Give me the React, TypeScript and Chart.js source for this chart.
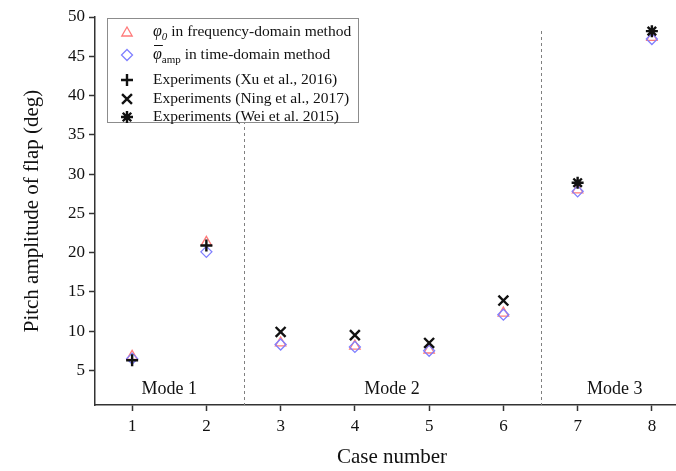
import React, { useEffect, useRef } from 'react';
import { Chart, registerables } from 'chart.js';

Chart.register(...registerables);

const FONT = "'Liberation Serif', 'Times New Roman', serif";

// Case numbers on the horizontal axis
const caseNumbers = [1, 2, 3, 4, 5, 6, 7, 8];
// φ0 from the frequency-domain method (deg)
const freqDomainPhi0 = [6.8, 21.3, 8.5, 8.1, 7.6, 12.3, 28.0, 47.4];
// mean φ_amp from the time-domain method (deg)
const timeDomainPhiAmp = [6.5, 20.1, 8.3, 8.0, 7.5, 12.1, 27.8, 47.2];
// Experimental references
const xuCases = [1, 2];
const xuValues = [6.3, 20.9];
const ningCases = [3, 4, 5, 6];
const ningValues = [9.9, 9.5, 8.5, 13.9];
const weiCases = [7, 8];
const weiValues = [28.9, 48.2];

const yTickValues = [5, 10, 15, 20, 25, 30, 35, 40, 45, 50];
const modeLabels = ['Mode 1', 'Mode 2', 'Mode 3'];
const modeCenters = [1.5, 4.5, 7.5];
const modeBoundaries = [2.5, 6.5];

const RED = '#ff7a7a';
const BLUE = '#7f7fff';
const INK = '#111111';

const pts = (xs: number[], ys: number[]) => xs.map((x, i) => ({ x, y: ys[i] }));

function drawMarker(
  ctx: CanvasRenderingContext2D,
  style: string,
  x: number,
  y: number,
  r: number,
  color: string,
  lw: number
) {
  ctx.save();
  ctx.strokeStyle = color;
  ctx.lineWidth = lw;
  ctx.beginPath();
  if (style === 'triangle') {
    ctx.moveTo(x, y - r);
    ctx.lineTo(x + r * 0.866, y + r / 2);
    ctx.lineTo(x - r * 0.866, y + r / 2);
    ctx.closePath();
  } else if (style === 'rectRot') {
    ctx.moveTo(x, y - r);
    ctx.lineTo(x + r, y);
    ctx.lineTo(x, y + r);
    ctx.lineTo(x - r, y);
    ctx.closePath();
  } else {
    if (style === 'cross' || style === 'star') {
      ctx.moveTo(x - r, y);
      ctx.lineTo(x + r, y);
      ctx.moveTo(x, y - r);
      ctx.lineTo(x, y + r);
    }
    if (style === 'crossRot' || style === 'star') {
      const d = r * Math.SQRT1_2;
      ctx.moveTo(x - d, y - d);
      ctx.lineTo(x + d, y + d);
      ctx.moveTo(x - d, y + d);
      ctx.lineTo(x + d, y - d);
    }
  }
  ctx.stroke();
  ctx.restore();
}

const modePlugin = {
  id: 'modeAnnotations',
  beforeDatasetsDraw(chart: any) {
    const { ctx, chartArea, scales } = chart;
    ctx.save();
    ctx.strokeStyle = '#808080';
    ctx.lineWidth = 1;
    ctx.setLineDash([3, 3]);
    modeBoundaries.forEach((b) => {
      const x = Math.round(scales.x.getPixelForValue(b)) + 0.5;
      ctx.beginPath();
      ctx.moveTo(x, chartArea.top + 14);
      ctx.lineTo(x, chartArea.bottom);
      ctx.stroke();
    });
    ctx.setLineDash([]);
    ctx.fillStyle = INK;
    ctx.font = `18px ${FONT}`;
    ctx.textAlign = 'center';
    ctx.textBaseline = 'middle';
    modeLabels.forEach((t, i) => {
      ctx.fillText(t, scales.x.getPixelForValue(modeCenters[i]), chartArea.bottom - 16);
    });
    ctx.restore();
  },
  afterDraw(chart: any) {
    const { ctx, chartArea } = chart;
    const bx = chartArea.left + 12;
    const by = chartArea.top + 1;
    const bw = 251;
    const bh = 104;
    ctx.save();
    ctx.fillStyle = '#ffffff';
    ctx.fillRect(bx, by, bw, bh);
    ctx.strokeStyle = '#8c8c8c';
    ctx.lineWidth = 1;
    ctx.strokeRect(bx + 0.5, by + 0.5, bw, bh);

    const mx = bx + 20;
    const tx = bx + 46;
    const rows = [by + 14, by + 37, by + 62, by + 81, by + 99];
    ctx.textBaseline = 'middle';
    ctx.textAlign = 'left';
    ctx.fillStyle = INK;

    // Row 1: φ0 in frequency-domain method
    drawMarker(ctx, 'triangle', mx, rows[0] + 1, 6, RED, 1.3);
    ctx.font = `italic 16px ${FONT}`;
    ctx.fillText('φ', tx, rows[0]);
    let w = ctx.measureText('φ').width;
    ctx.font = `italic 11px ${FONT}`;
    ctx.fillText('0', tx + w, rows[0] + 5);
    w += ctx.measureText('0').width;
    ctx.font = `15.5px ${FONT}`;
    ctx.fillText(' in frequency-domain method', tx + w, rows[0]);

    // Row 2: mean φ_amp in time-domain method
    drawMarker(ctx, 'rectRot', mx, rows[1], 5.5, BLUE, 1.3);
    ctx.font = `italic 16px ${FONT}`;
    ctx.fillText('φ', tx, rows[1]);
    let w2 = ctx.measureText('φ').width;
    ctx.save();
    ctx.strokeStyle = INK;
    ctx.lineWidth = 1;
    ctx.beginPath();
    ctx.moveTo(tx + 1, rows[1] - 9.5);
    ctx.lineTo(tx + w2 + 1, rows[1] - 9.5);
    ctx.stroke();
    ctx.restore();
    ctx.font = `11px ${FONT}`;
    ctx.fillText('amp', tx + w2, rows[1] + 5);
    w2 += ctx.measureText('amp').width;
    ctx.font = `15.5px ${FONT}`;
    ctx.fillText(' in time-domain method', tx + w2, rows[1]);

    // Rows 3-5: experiments
    const exp = [
      ['cross', 6, 'Experiments (Xu et al., 2016)'],
      ['crossRot', 7, 'Experiments (Ning et al., 2017)'],
      ['star', 6, 'Experiments (Wei et al. 2015)'],
    ] as const;
    exp.forEach(([style, r, label], i) => {
      drawMarker(ctx, style, mx, rows[i + 2], r, INK, 2.4);
      ctx.font = `15.5px ${FONT}`;
      ctx.fillStyle = INK;
      ctx.fillText(label, tx, rows[i + 2]);
    });
    ctx.restore();
  },
};

export default function App() {
  const canvasRef = useRef<HTMLCanvasElement | null>(null);

  useEffect(() => {
    const canvas = canvasRef.current;
    if (!canvas) return;
    const tickFont = { family: FONT, size: 17 };
    const titleFont = { family: FONT, size: 21 };
    const chart = new Chart(canvas, {
      type: 'scatter',
      data: {
        datasets: [
          {
            label: 'φ0 in frequency-domain method',
            data: pts(caseNumbers, freqDomainPhi0),
            pointStyle: 'triangle',
            pointRadius: 6,
            borderColor: RED,
            backgroundColor: 'rgba(0,0,0,0)',
            pointBorderWidth: 1.3,
            order: 3,
          },
          {
            label: 'φamp in time-domain method',
            data: pts(caseNumbers, timeDomainPhiAmp),
            pointStyle: 'rectRot',
            pointRadius: 5.5,
            borderColor: BLUE,
            backgroundColor: 'rgba(0,0,0,0)',
            pointBorderWidth: 1.3,
            order: 2,
          },
          {
            label: 'Experiments (Xu et al., 2016)',
            data: pts(xuCases, xuValues),
            pointStyle: 'cross',
            pointRadius: 6,
            borderColor: INK,
            pointBorderWidth: 2.4,
            order: 1,
          },
          {
            label: 'Experiments (Ning et al., 2017)',
            data: pts(ningCases, ningValues),
            pointStyle: 'crossRot',
            pointRadius: 7,
            borderColor: INK,
            pointBorderWidth: 2.4,
            order: 1,
          },
          {
            label: 'Experiments (Wei et al. 2015)',
            data: pts(weiCases, weiValues),
            pointStyle: 'star',
            pointRadius: 6,
            borderColor: INK,
            pointBorderWidth: 2.4,
            order: 1,
          },
        ],
      },
      options: {
        responsive: false,
        animation: false,
        layout: { padding: { top: 17, left: 0, right: 11, bottom: 0 } },
        plugins: {
          legend: { display: false },
          tooltip: { enabled: false },
        },
        scales: {
          x: {
            type: 'linear',
            min: 0.5,
            max: 8.5,
            afterBuildTicks: (scale: any) => {
              scale.ticks = caseNumbers.map((v) => ({ value: v }));
            },
            afterFit: (scale: any) => {
              scale.height = 66;
            },
            ticks: {
              font: tickFont,
              color: INK,
              padding: 5,
              callback: (v: any) => String(v),
            },
            grid: {
              display: true,
              drawOnChartArea: false,
              drawTicks: true,
              tickLength: 6,
              tickColor: '#333',
              tickWidth: 1.5,
            },
            border: { display: true, color: '#333', width: 1.5 },
            title: {
              display: true,
              text: 'Case number',
              font: titleFont,
              color: INK,
              padding: { top: 0, bottom: 1 },
            },
          },
          y: {
            type: 'linear',
            min: 0.6,
            max: 50,
            afterBuildTicks: (scale: any) => {
              scale.ticks = yTickValues.map((v) => ({ value: v }));
            },
            afterFit: (scale: any) => {
              scale.width = 95;
            },
            ticks: {
              font: tickFont,
              color: INK,
              padding: 4,
              callback: (v: any) => String(v),
            },
            grid: {
              display: true,
              drawOnChartArea: false,
              drawTicks: true,
              tickLength: 6,
              tickColor: '#333',
              tickWidth: 1.5,
            },
            border: { display: true, color: '#333', width: 1.5 },
            title: {
              display: true,
              text: 'Pitch amplitude of flap (deg)',
              font: titleFont,
              color: INK,
              padding: { top: 20, bottom: 0 },
            },
          },
        },
      },
      plugins: [modePlugin],
    } as any);
    return () => chart.destroy();
  }, []);

  return (
    <div
      style={{
        position: 'fixed',
        left: 0,
        top: 0,
        width: 676,
        height: 471,
        overflow: 'hidden',
        background: '#fff',
      }}
    >
      <canvas ref={canvasRef} width={700} height={471} style={{ display: 'block' }} />
    </div>
  );
}
